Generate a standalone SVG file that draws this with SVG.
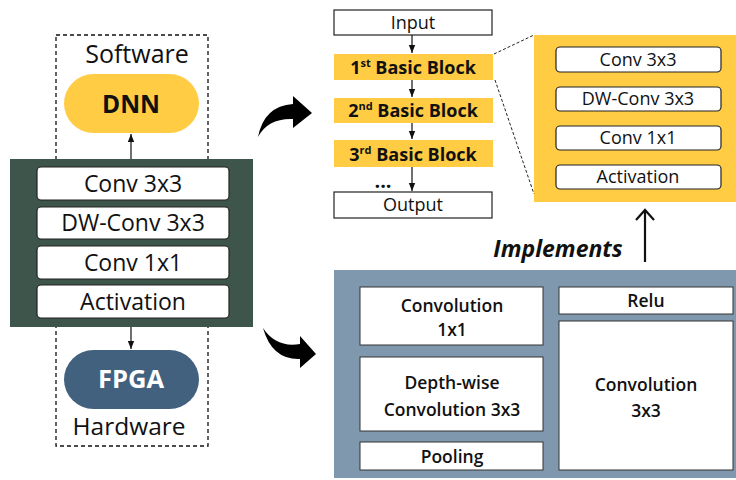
<svg xmlns="http://www.w3.org/2000/svg" width="736" height="480" viewBox="0 0 736 480">
  <defs>
    <style>
      text { font-family: "Open Sans", "Noto Sans", "Liberation Sans", sans-serif; fill: #111; text-anchor: middle; }
      .big { font-size: 23px; }
      .mid { font-size: 18px; }
      .sm { font-size: 17.5px; }
      .bold { font-weight: 700; }
      .semi { font-weight: 600; }
      .wbox { fill: #fff; stroke: #222; stroke-width: 1.2; }
      .flow { fill: #fff; stroke: #222; stroke-width: 1.2; }
      .yel { fill: #FFCC44; }
      .hw { fill: #fff; stroke: #333; stroke-width: 1; }
      .link { stroke: #111; stroke-width: 1.2; fill: none; }
      .dash { stroke: #111; stroke-width: 1.3; fill: none; stroke-dasharray: 4 3; }
      .fine { stroke: #222; stroke-width: 1; fill: none; stroke-dasharray: 3 2; }
    </style>
    <marker id="tip" viewBox="0 0 10 10" refX="10" refY="5" markerWidth="7" markerHeight="7" orient="auto">
      <path d="M0,1 L10,5 L0,9 Z" fill="#111"/>
    </marker>
  </defs>

  <!-- software / hardware frame -->
  <g id="frame">
    <rect x="56" y="35" width="152" height="411" class="dash"/>
    <text x="137" y="63" style="font-size:25px">Software</text>
    <text x="129" y="435" style="font-size:24.5px">Hardware</text>
  </g>

  <g id="dnn">
    <rect x="64" y="74" width="135" height="59" rx="29.5" fill="#FFCC44"/>
    <text x="131" y="113" class="bold" style="font-size:24.5px">DNN</text>
  </g>

  <g id="fpga">
    <rect x="64" y="350" width="135" height="59" rx="29.5" fill="#41617F"/>
    <text x="131" y="388" class="bold" style="font-size:25.5px;fill:#fff">FPGA</text>
  </g>

  <!-- layer stack on the green block -->
  <g id="layers">
    <rect x="10" y="159" width="243" height="168" fill="#3E554C"/>
    <rect x="37" y="167" width="192" height="33" rx="4" class="wbox"/>
    <text x="133" y="192" class="big">Conv 3x3</text>
    <rect x="37" y="207" width="192" height="32" rx="4" class="wbox"/>
    <text x="133" y="231" class="big">DW-Conv 3x3</text>
    <rect x="37" y="246" width="192" height="33" rx="4" class="wbox"/>
    <text x="133" y="271" class="big">Conv 1x1</text>
    <rect x="37" y="285" width="192" height="33" rx="4" class="wbox"/>
    <text x="133" y="310" class="big">Activation</text>
  </g>

  <!-- network flow -->
  <g id="input">
    <rect x="334" y="10" width="158" height="25" class="flow"/>
    <text x="413" y="29" class="mid">Input</text>
  </g>
  <g id="block1">
    <rect x="334" y="54" width="159" height="26" class="yel"/>
    <text x="413" y="74" class="mid bold">1<tspan font-size="11" dy="-7">st</tspan><tspan dy="7"> Basic Block</tspan></text>
  </g>
  <g id="block2">
    <rect x="334" y="98" width="159" height="25" class="yel"/>
    <text x="413" y="117" class="mid bold">2<tspan font-size="11" dy="-7">nd</tspan><tspan dy="7"> Basic Block</tspan></text>
  </g>
  <g id="block3">
    <rect x="334" y="140" width="159" height="27" class="yel"/>
    <text x="413" y="161" class="mid bold">3<tspan font-size="11" dy="-7">rd</tspan><tspan dy="7"> Basic Block</tspan></text>
  </g>
  <g id="more">
    <text x="383" y="188" class="bold" style="font-size:20px">...</text>
  </g>
  <g id="output">
    <rect x="334" y="192" width="158" height="26" class="flow"/>
    <text x="413" y="211" class="mid">Output</text>
  </g>

  <!-- basic block detail -->
  <g id="block-detail">
    <rect x="534" y="35" width="202" height="167" fill="#FFCC44"/>
    <rect x="556" y="47" width="165" height="25" rx="4" class="wbox"/>
    <text x="638" y="66" class="mid">Conv 3x3</text>
    <rect x="556" y="87" width="165" height="24" rx="4" class="wbox"/>
    <text x="638" y="105" class="mid">DW-Conv 3x3</text>
    <rect x="556" y="126" width="165" height="24" rx="4" class="wbox"/>
    <text x="638" y="144" class="mid">Conv 1x1</text>
    <rect x="556" y="165" width="165" height="24" rx="4" class="wbox"/>
    <text x="638" y="183" class="mid">Activation</text>
  </g>

  <g id="implements">
    <text x="558" y="257" class="bold" style="font-size:23px;font-style:italic">Implements</text>
  </g>

  <!-- hardware modules -->
  <g id="hw-modules">
    <rect x="334" y="270" width="402" height="208" fill="#8098AD"/>
    <rect x="360" y="287" width="183" height="58" class="hw"/>
    <text x="452" y="312" class="sm semi">Convolution</text>
    <text x="452" y="336" class="sm semi">1x1</text>
    <rect x="360" y="357" width="183" height="74" class="hw"/>
    <text x="452" y="389" class="sm semi">Depth-wise</text>
    <text x="452" y="416" class="sm semi">Convolution 3x3</text>
    <rect x="360" y="442" width="183" height="28" class="hw"/>
    <text x="452" y="463" class="sm semi">Pooling</text>
    <rect x="559" y="287" width="174" height="27" class="hw"/>
    <text x="646" y="307" class="sm semi">Relu</text>
    <rect x="559" y="321" width="174" height="149" class="hw"/>
    <text x="646" y="391" class="sm semi">Convolution</text>
    <text x="646" y="417" class="sm semi">3x3</text>
  </g>

  <!-- connectors -->
  <g id="connectors">
    <line x1="131" y1="159" x2="131" y2="134" class="link" marker-end="url(#tip)"/>
    <line x1="131" y1="327" x2="131" y2="349" class="link" marker-end="url(#tip)"/>
    <line x1="412" y1="35" x2="412" y2="53" class="link" marker-end="url(#tip)"/>
    <line x1="412" y1="80" x2="412" y2="97" class="link" marker-end="url(#tip)"/>
    <line x1="412" y1="123" x2="412" y2="139" class="link" marker-end="url(#tip)"/>
    <line x1="412" y1="167" x2="412" y2="191" class="link" marker-end="url(#tip)"/>
    <line x1="494" y1="54" x2="534" y2="35" class="fine"/>
    <line x1="495" y1="80" x2="534" y2="194" class="fine"/>
    <line x1="645" y1="262" x2="645" y2="210" stroke="#111" stroke-width="2.2"/>
    <polyline points="636,220 645,210 654,220" fill="none" stroke="#111" stroke-width="2.2"/>
    <path d="M258,137 Q264,106 293,104 L293,96 L312,113 L293,128 L293,119 Q268,118 258,137 Z" fill="#000"/>
    <path d="M263,328 Q276,348 300,344 L300,336 L316,354 L300,368 L300,359 Q272,360 263,328 Z" fill="#000"/>
  </g>
</svg>
